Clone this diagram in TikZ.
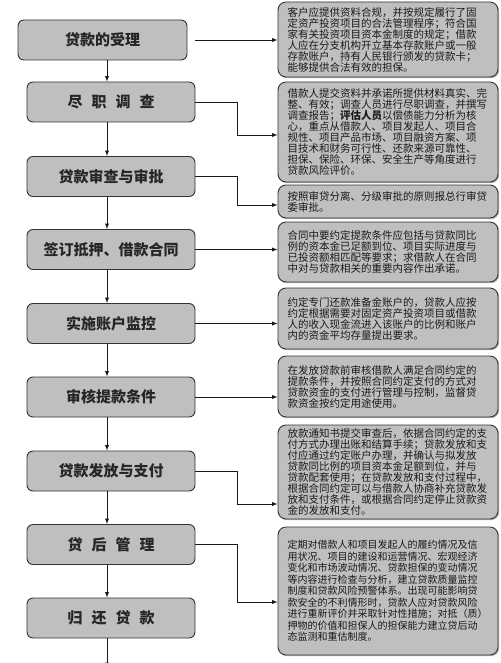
\documentclass[tikz,border=0pt]{standalone}
\usepackage{fontspec}
\setmainfont{Noto Sans CJK SC}
\usetikzlibrary{shadows}
\tikzset{
	stagebox/.style={draw=black!80, fill=black!25, rounded corners=6pt, line width=0.9pt, minimum width=168pt, minimum height=40pt, font=\fontsize{15}{15}\selectfont\bfseries, text=black!85},
	notebox/.style={draw=black!80, fill=black!25, rounded corners=8pt, line width=0.9pt, text width=201pt, inner xsep=9.5pt, inner ysep=2pt, align=left, font=\fontsize{10.5}{11}\selectfont, text=black!90, drop shadow={shadow xshift=1.2pt, shadow yshift=-1.2pt, fill=black!55}},
	link/.style={->, >=latex, line width=0.9pt, draw=black!90}
}

\begin{document}
\begin{tikzpicture}[x=1pt, y=-1pt]
			%%%%% START %%%%%
			\fill[white] (0,0) rectangle (500,663);
			\useasboundingbox (0,0) rectangle (500,663);
			
			\coordinate (spine) at (107,0);
			
			\node[stagebox, minimum width=169pt] (s1) at (102.5,40) {贷款的受理};
			\node[stagebox] (s2) at (111,102) {尽\hspace{9pt}职\hspace{9pt}调\hspace{9pt}查};
			\node[stagebox] (s3) at (111,176.5) {贷款审查与审批};
			\node[stagebox] (s4) at (111,249.5) {签订抵押、借款合同};
			\node[stagebox] (s5) at (111,323.5) {实施账户监控};
			\node[stagebox] (s6) at (111,397) {审核提款条件};
			\node[stagebox] (s7) at (111,471) {贷款发放与支付};
			\node[stagebox] (s8) at (111,544.5) {贷\hspace{9pt}后\hspace{9pt}管\hspace{9pt}理};
			\node[stagebox] (s9) at (111,618) {归\hspace{9pt}还\hspace{9pt}贷\hspace{9pt}款};
			
			\node[notebox, minimum height=75pt] (d1) at (388,39.5) {客户应提供资料合规，并按规定履行了固\\定资产投资项目的合法管理程序；符合国\\家有关投资项目资本金制度的规定；借款\\人应在分支机构开立基本存款账户或一般\\存款账户，持有人民银行颁发的贷款卡；\\能够提供合法有效的担保。};
			\node[notebox, minimum height=100pt] (d2) at (388,132) {借款人提交资料并承诺所提供材料真实、完\\整、有效；调查人员进行尽职调查，并撰写\\调查报告；\textbf{评估人员}以偿债能力分析为核\\心，重点从借款人、项目发起人、项目合\\规性、项目产品市场、项目融资方案、项\\目技术和财务可行性、还款来源可靠性、\\担保、保险、环保、安全生产等角度进行\\贷款风险评价。};
			\node[notebox, minimum height=33pt] (d3) at (388,201.5) {按照审贷分离、分级审批的原则报总行审贷\\委审批。};
			\node[notebox, minimum height=60pt] (d4) at (388,252) {合同中要约定提款条件应包括与贷款同比\\例的资本金已足额到位、项目实际进度与\\已投资额相匹配等要求；求借款人在合同\\中对与贷款相关的重要内容作出承诺。};
			\node[notebox, minimum height=61pt] (d5) at (388,318.5) {约定专门还款准备金账户的，贷款人应按\\约定根据需要对固定资产投资项目或借款\\人的收入现金流进入该账户的比例和账户\\内的资金平均存量提出要求。};
			\node[notebox, minimum height=61pt] (d6) at (388,386.5) {在发放贷款前审核借款人满足合同约定的\\提款条件，并按照合同约定支付的方式对\\贷款资金的支付进行管理与控制，监督贷\\款资金按约定用途使用。};
			\node[notebox, minimum height=94pt] (d7) at (388,472) {放款通知书提交审查后，依据合同约定的支\\付方式办理出账和结算手续；贷款发放和支\\付应通过约定账户办理，并确认与拟发放\\贷款同比例的项目资本金足额到位，并与\\贷款配套使用；在贷款发放和支付过程中，\\根据合同约定可以与借款人协商补充贷款发\\放和支付条件，或根据合同约定停止贷款资\\金的发放和支付。};
			\node[notebox, minimum height=128pt, font=\fontsize{10}{11.5}\selectfont] (d8) at (388,591) {定期对借款人和项目发起人的履约情况及信\\用状况、项目的建设和运营情况、宏观经济\\变化和市场波动情况、贷款担保的变动情况\\等内容进行检查与分析，建立贷款质量监控\\制度和贷款风险预警体系。出现可能影响贷\\款安全的不利情形时，贷款人应对贷款风险\\进行重新评价并采取针对性措施；对抵（质）\\押物的价值和担保人的担保能力建立贷后动\\态监测和重估制度。};
			
			% down the left column
			\draw[link] (s1.south -| spine) -- (s2.north -| spine);
			\draw[link] (s2.south -| spine) -- (s3.north -| spine);
			\draw[link] (s3.south -| spine) -- (s4.north -| spine);
			\draw[link] (s4.south -| spine) -- (s5.north -| spine);
			\draw[link] (s5.south -| spine) -- (s6.north -| spine);
			\draw[link] (s6.south -| spine) -- (s7.north -| spine);
			\draw[link] (s7.south -| spine) -- (s8.north -| spine);
			\draw[link] (s8.south -| spine) -- (s9.north -| spine);
			\coordinate (tail) at (107,668);
			\draw[link] (s9.south -| spine) -- (tail);
			
			% across to the notes
			\coordinate (k2) at (237,135);
			\coordinate (k3) at (237,205);
			\coordinate (k7) at (237,504);
			\coordinate (k8) at (237,602);
			\draw[link] ([xshift=8pt]s1.east) -- (s1.east -| d1.west);
			\draw[link] (s2.east) -| (k2) -- (k2 -| d2.west);
			\draw[link] (s3.east) -| (k3) -- (k3 -| d3.west);
			\draw[link] (s4.east) -- (s4.east -| d4.west);
			\draw[link] (s5.east) -- (s5.east -| d5.west);
			\draw[link] (s6.east) -- (s6.east -| d6.west);
			\draw[link] (s7.east) -| (k7) -- (k7 -| d7.west);
			\draw[link] (s8.east) -| (k8) -- (k8 -| d8.west);
			%%%%% END %%%%%
\end{tikzpicture}
\end{document}
